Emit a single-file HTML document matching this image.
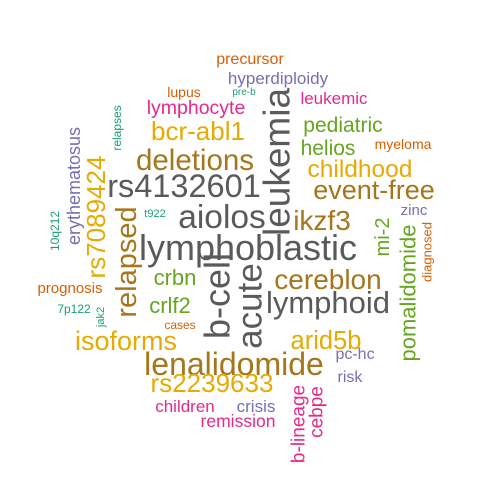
<!DOCTYPE html>
<html><head><meta charset="utf-8"><style>
html,body{margin:0;padding:0;background:#fff;}
svg{display:block;font-family:"Liberation Sans",Arial,sans-serif;}
</style></head><body>
<svg id="cloud" width="500" height="500" viewBox="0 0 500 500"></svg>
<script>
const words=["precursor","hyperdiploidy","lupus","pre-b","leukemic","lymphocyte","bcr-abl1","pediatric","helios","myeloma","deletions","childhood","rs4132601","event-free","t922","aiolos","zinc","ikzf3","lymphoblastic","crbn","prognosis","cereblon","crlf2","7p122","lymphoid","cases","isoforms","arid5b","pc-hc","lenalidomide","risk","rs2239633","children","crisis","remission",
"leukemia","b-cell","acute","relapsed","rs7089424","erythematosus","relapses","10q212","jak2","mi-2","pomalidomide","diagnosed","b-lineage","cebpe"];
const cx=[250,278,184,244,334,196,198,343,328,403,195,360,184,374,155,222,414,322,248,175,70,328,170,74,328,180,126,326,355,234,350,212,185,256,238,
277,217,250,127,96,74,117,55,101,383,408,427,299,317];
const cy=[64,84,97,95,104,114,140,132,155,149,170,177,197,199,217,228,215,230,260,285,293,289,313,313,313,329,350,349,359,375,382,392,412,412,427,
162,296,306,262,217,186,128,231,317,237,293,252,424,412];
const sizes=[16,17,14,10,17,19.5,26,21,21,14,29.5,24.5,32.5,27,11,33.5,15,28,36,22,15,28,22,12,31,12,27,25.5,16,32,16,26,17,17,17.5,
37,36,35,29,26,18,12,12,11,20,22,13,19,19];
const colors=["#D95F02","#7570B3","#D95F02","#1B9E77","#E7298A","#E7298A","#E6AB02","#66A61E","#66A61E","#D95F02","#A6761D","#E6AB02","#5A5A5A","#A6761D","#1B9E77","#5A5A5A","#7570B3","#A6761D","#5A5A5A","#66A61E","#D95F02","#A6761D","#66A61E","#1B9E77","#5A5A5A","#D95F02","#E6AB02","#E6AB02","#7570B3","#A6761D","#7570B3","#E6AB02","#E7298A","#7570B3","#E7298A",
"#5A5A5A","#5A5A5A","#5A5A5A","#A6761D","#E6AB02","#7570B3","#1B9E77","#1B9E77","#1B9E77","#66A61E","#66A61E","#D95F02","#E7298A","#E7298A"];
const rot=[0,0,0,0,0,0,0,0,0,0,0,0,0,0,0,0,0,0,0,0,0,0,0,0,0,0,0,0,0,0,0,0,0,0,0,
-90,-90,-90,-90,-90,-90,-90,-90,-90,-90,-90,-90,-90,-90];
const svg=document.getElementById('cloud');
const NS="http://www.w3.org/2000/svg";
for(let i=0;i<words.length;i++){
  const t=document.createElementNS(NS,'text');
  
  
  t.setAttribute('text-anchor','middle');
  t.setAttribute('font-size',sizes[i]);
  t.setAttribute('fill',colors[i]);
  if(rot[i]===0){
    t.setAttribute('x',cx[i]);t.setAttribute('y',cy[i]);
  }else{
    t.setAttribute('x',0);t.setAttribute('y',0);
    t.setAttribute('dominant-baseline','central');
    t.setAttribute('transform','translate('+cx[i]+','+cy[i]+') rotate('+rot[i]+')');
  }
  t.textContent=words[i];
  svg.appendChild(t);
}
</script>
</body></html>
